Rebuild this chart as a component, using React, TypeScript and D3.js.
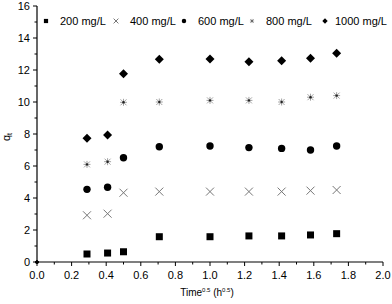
import React from 'react';
import * as d3 from 'd3';

const times = [0, 0.289, 0.408, 0.5, 0.707, 1.0, 1.225, 1.414, 1.581, 1.732];
const seriesNames = ['200 mg/L', '400 mg/L', '600 mg/L', '800 mg/L', '1000 mg/L'];
const q200 = [0, 0.5, 0.56, 0.64, 1.58, 1.58, 1.63, 1.63, 1.69, 1.77];
const q400 = [0, 2.92, 3.02, 4.33, 4.4, 4.4, 4.4, 4.4, 4.46, 4.5];
const q600 = [0, 4.54, 4.67, 6.52, 7.2, 7.25, 7.15, 7.1, 7.0, 7.25];
const q800 = [0, 6.1, 6.27, 9.98, 10.0, 10.1, 10.1, 10.0, 10.3, 10.4];
const q1000 = [0, 7.73, 7.94, 11.77, 12.67, 12.69, 12.52, 12.58, 12.73, 13.04];
const seriesValues = [q200, q400, q600, q800, q1000];
const xTicks = [0, 0.2, 0.4, 0.6, 0.8, 1.0, 1.2, 1.4, 1.6, 1.8, 2.0];
const yTicks = [0, 2, 4, 6, 8, 10, 12, 14, 16];

const font = 'Arial, "Liberation Sans", sans-serif';

function Marker({ kind, x, y, s = 1 }: { kind: number; x: number; y: number; s?: number }) {
  if (kind === 0) return <rect x={x - 3.5 * s} y={y - 3.5 * s} width={7 * s} height={7 * s} fill="#000" />;
  if (kind === 1) {
    const a = 4 * s;
    return <path d={`M${x - a},${y - a}L${x + a},${y + a}M${x - a},${y + a}L${x + a},${y - a}`} stroke="#777" strokeWidth={1} />;
  }
  if (kind === 2) return <circle cx={x} cy={y} r={3.7 * s} fill="#000" />;
  if (kind === 3) {
    const a = 3.5 * s, b = 3 * s;
    return (
      <g>
        <path
          d={`M${x - a},${y}L${x + a},${y}M${x},${y - a}L${x},${y + a}M${x - b},${y - b}L${x + b},${y + b}M${x - b},${y + b}L${x + b},${y - b}`}
          stroke="#999"
          strokeWidth={0.9}
        />
        <circle cx={x} cy={y} r={1.2 * s} fill="#222" />
      </g>
    );
  }
  const d = 4.5 * s;
  return <path d={`M${x},${y - d}L${x + d},${y}L${x},${y + d}L${x - d},${y}Z`} fill="#000" />;
}

export default function App() {
  const width = 392, height = 304;
  const margin = { top: 6, right: 9, bottom: 42, left: 37 };
  const x = d3.scaleLinear().domain([0, 2]).range([margin.left, width - margin.right]);
  const y = d3.scaleLinear().domain([0, 16]).range([height - margin.bottom, margin.top]);
  const x0 = x(0), y0 = y(0);
  const xMinor = d3.range(0.1, 2, 0.2);
  const yMinor = d3.range(1, 16, 2);

  const legendX = [46, 116, 184, 252, 325];

  return (
    <svg width={width} height={height} style={{ position: 'absolute', left: 0, top: 0 }} fontFamily={font}>
      {/* axes */}
      <line x1={x0} x2={x(2)} y1={y0} y2={y0} stroke="#000" strokeWidth={1.2} />
      <line x1={x0} x2={x0} y1={y0} y2={y(16)} stroke="#000" strokeWidth={1.2} />
      {xTicks.map(t => (
        <g key={'x' + t}>
          <line x1={x(t)} x2={x(t)} y1={y0} y2={y0 + 4} stroke="#000" />
          <text x={x(t)} y={y0 + 17} fontSize={11} textAnchor="middle">{t.toFixed(1)}</text>
        </g>
      ))}
      {xMinor.map(t => (
        <line key={'xm' + t} x1={x(t)} x2={x(t)} y1={y0} y2={y0 + 2.5} stroke="#000" />
      ))}
      {yTicks.map(t => (
        <g key={'y' + t}>
          <line x1={x0 - 4} x2={x0} y1={y(t)} y2={y(t)} stroke="#000" />
          <text x={x0 - 7} y={y(t) + 4} fontSize={11} textAnchor="end">{t}</text>
        </g>
      ))}
      {yMinor.map(t => (
        <line key={'ym' + t} x1={x0 - 2.5} x2={x0} y1={y(t)} y2={y(t)} stroke="#000" />
      ))}

      {/* labels */}
      <text x={207} y={296} fontSize={10} textAnchor="middle">
        Time<tspan fontSize={6} dy={-4}>0.5</tspan>
        <tspan dy={4}> (h</tspan>
        <tspan fontSize={6} dy={-4}>0.5</tspan>
        <tspan dy={4}>)</tspan>
      </text>
      <text transform={`translate(10,${y(8) + 3}) rotate(-90)`} fontSize={11} textAnchor="middle">
        q<tspan fontSize={7} dy={2}>t</tspan>
      </text>

      {/* points */}
      {seriesValues.map((vals, si) =>
        vals.map((v, i) =>
          times[i] === 0 ? (
            <circle key={si + '-' + i} cx={x(0)} cy={y(0)} r={1.6} fill="#000" />
          ) : (
            <Marker key={si + '-' + i} kind={si} x={x(times[i])} y={y(v)} />
          )
        )
      )}

      {/* legend */}
      {seriesNames.map((n, i) => (
        <g key={n}>
          <Marker kind={i} x={legendX[i]} y={21} s={0.6} />
          <text x={legendX[i] + (i === 4 ? 10 : 14)} y={25} fontSize={11}>{n}</text>
        </g>
      ))}
    </svg>
  );
}
